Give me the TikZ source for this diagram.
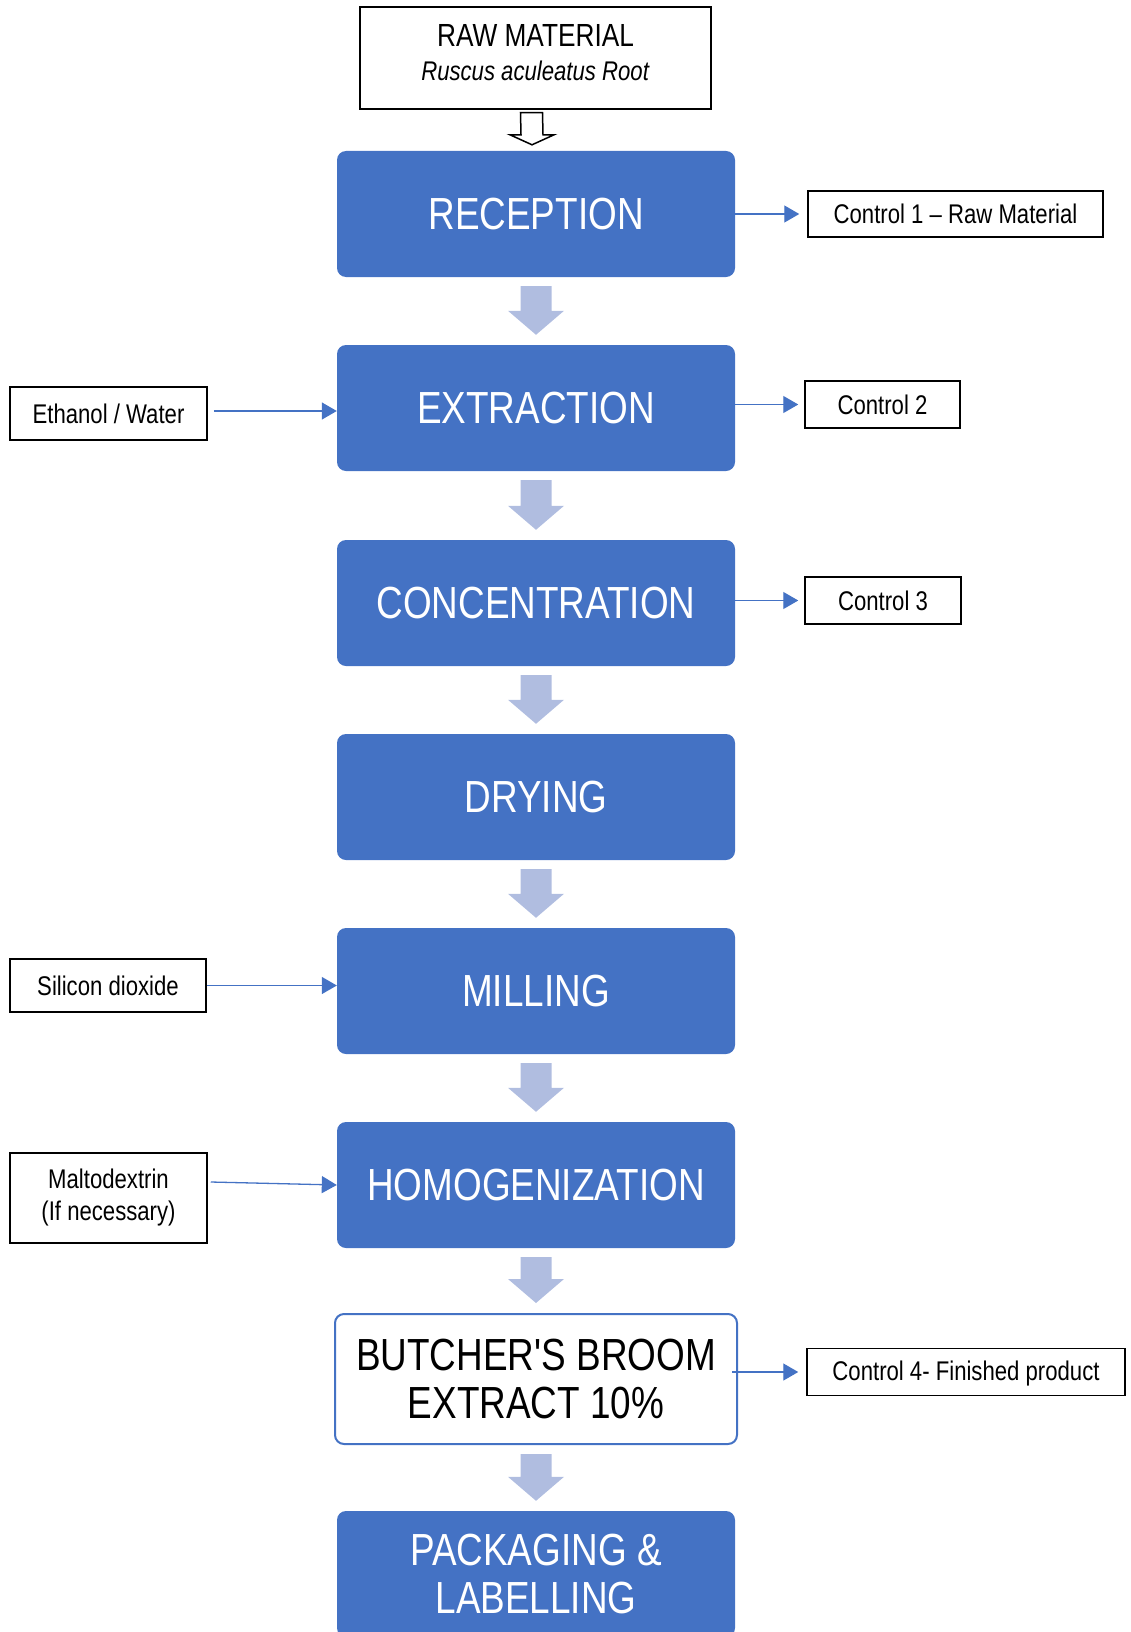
\documentclass[tikz,border=0pt]{standalone}
\usepackage{fontspec}
\setmainfont{Liberation Sans}[FakeStretch=0.82, Ligatures=TeXOff]
\usetikzlibrary{arrows.meta,calc}
\definecolor{flowblue}{HTML}{4472C4}
\definecolor{arrowblue}{HTML}{B0BDE0}
\tikzset{
  procbox/.style={rectangle, rounded corners=9pt, fill=flowblue, text=white, minimum width=398pt, minimum height=126pt, inner sep=0pt, align=center, font=\fontsize{45}{48}\selectfont},
  prodbox/.style={procbox, fill=white, draw=flowblue, line width=2pt, text=black},
  sidebox/.style={draw, line width=1.5pt, inner sep=0pt, align=center, font=\fontsize{27}{32}\selectfont},
  feed/.style={flowblue, line width=1.3pt, -{Triangle[length=15pt,width=17pt]}},
}
\newcommand{\flowarrow}[2]{%
  \fill[arrowblue] ($(#1.south)+(-15.5,9)$) -- ($(#1.south)+(15.5,9)$) -- ($(#2.north)+(15.5,-34)$)
    -- ($(#2.north)+(28,-34)$) -- ($(#2.north)+(0,-10)$) -- ($(#2.north)+(-28,-34)$)
    -- ($(#2.north)+(-15.5,-34)$) -- cycle;}
\begin{document}
\begin{tikzpicture}[x=1pt,y=-1pt]
  \useasboundingbox (0,0) rectangle (1130,1632);
  \node[sidebox, minimum width=351pt, minimum height=102pt] (raw) at (535.5,58) {};
  \node[align=center, inner sep=0pt, font=\fontsize{32}{34}\selectfont] (rawtxt) at (535.5,53) {RAW MATERIAL\\\fontsize{27}{34}\selectfont\textit{Ruscus aculeatus Root}};

  \node[procbox] (rec) at (536,214) {RECEPTION};
  \node[procbox] (ext) at (536,408) {EXTRACTION};
  \node[procbox] (con) at (536,603) {CONCENTRATION};
  \node[procbox] (dry) at (536,797) {DRYING};
  \node[procbox] (mil) at (536,991) {MILLING};
  \node[procbox] (hom) at (536,1185) {HOMOGENIZATION};
  \node[prodbox, minimum width=402pt, minimum height=130pt] (bbe) at (536,1379) {BUTCHER'S BROOM\\EXTRACT 10\%};
  \node[procbox] (pack) at (536,1574) {PACKAGING \&\\LABELLING};

  \node[sidebox, minimum width=295pt, minimum height=46pt] (c1) at (955.5,214) {Control 1 – Raw Material};
  \node[sidebox, minimum width=155pt, minimum height=47pt] (c2) at (882.5,404.5) {Control 2};
  \node[sidebox, minimum width=156pt, minimum height=47pt] (c3) at (883,600.5) {Control 3};
  \node[sidebox, minimum width=318pt, minimum height=47pt, text depth=2pt] (c4) at (966,1372) {Control 4- Finished product};

  \node[sidebox, minimum width=197pt, minimum height=53pt] (ew) at (108.5,413.5) {Ethanol / Water};
  \node[sidebox, minimum width=196pt, minimum height=53pt] (sil) at (108,985.5) {Silicon dioxide};
  \node[sidebox, minimum width=197pt, minimum height=90pt] (mal) at (108.5,1198) {Maltodextrin\\(If necessary)};

  \draw[line width=1.5pt, fill=white] ($(raw.south)+(-15,3)$) -- ($(raw.south)+(7,3)$) -- ($(rec.north)+(7,-16)$)
    -- ($(rec.north)+(18,-16)$) -- ($(rec.north)+(-4,-6)$) -- ($(rec.north)+(-26,-16)$) -- ($(rec.north)+(-15,-16)$) -- cycle;
  \foreach \a/\b in {rec/ext, ext/con, con/dry, dry/mil, mil/hom, hom/bbe, bbe/pack}
    \flowarrow{\a}{\b};

  \draw[feed] (rec.east) -- ([xshift=-8pt]c1.west);
  \draw[feed] (ext.east |- c2.west) -- ([xshift=-6pt]c2.west);
  \draw[feed] (con.east |- c3.west) -- ([xshift=-6pt]c3.west);
  \draw[feed] ([xshift=-6pt]bbe.east |- c4.west) -- ([xshift=-8pt]c4.west);
  \draw[feed] ([xshift=6pt]ew.east |- 0,411) -- (ext.west |- 0,411);
  \draw[feed] (sil.east) -- (mil.west |- sil.east);
  \draw[feed] ([xshift=3pt,yshift=16pt]mal.east) -- (hom.west);
\end{tikzpicture}
\end{document}
